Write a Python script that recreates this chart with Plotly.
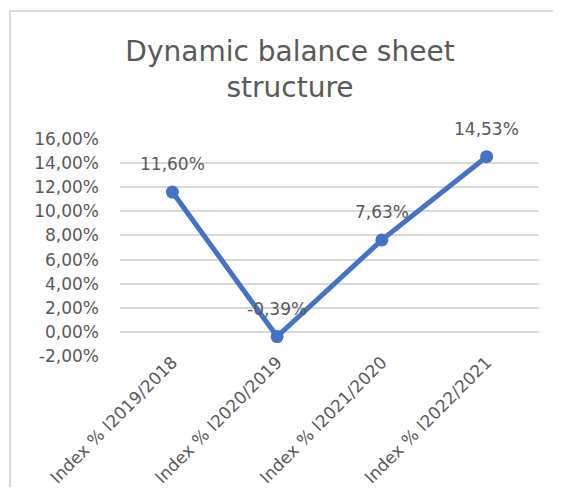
import plotly.graph_objects as go

# Dados do gráfico
categorias = ['Index % I2019/2018', 'Index % I2020/2019', 'Index % I2021/2020', 'Index % I2022/2021']
valores = [11.60, -0.39, 7.63, 14.53]
ticks_y = [-2, 0, 2, 4, 6, 8, 10, 12, 14, 16]


def fmt_pct(v):
    """Formata com vírgula decimal e sinal de percentagem"""
    return f'{v:.2f}%'.replace('.', ',')


cinza = '#595959'
fonte = 'DejaVu Sans'

fig = go.Figure()

fig.add_trace(go.Scatter(
    x=categorias,
    y=valores,
    mode='lines+markers',
    line=dict(color='#4472C4', width=5),
    marker=dict(color='#4472C4', size=13),
    showlegend=False,
))

# Rótulos de dados acima dos pontos
for cat, val in zip(categorias, valores):
    fig.add_annotation(
        x=cat, y=val,
        text=fmt_pct(val),
        showarrow=False,
        yshift=28,
        font=dict(family=fonte, size=17, color=cinza),
    )

# Moldura do gráfico (só a borda esquerda e a de cima aparecem)
fig.add_shape(
    type='line', xref='paper', yref='paper',
    x0=-0.2625, x1=-0.2625, y0=-0.7, y1=1.59,
    line=dict(color='#d9d9d9', width=2),
)
fig.add_shape(
    type='line', xref='paper', yref='paper',
    x0=-0.2625, x1=1.3, y0=1.59, y1=1.59,
    line=dict(color='#d9d9d9', width=2),
)

# A página tem margem de 8px, por isso a figura é menor que a janela (sem barras de rolagem)
fig.update_layout(
    width=545,
    height=479,
    margin=dict(l=112, r=14, t=131, b=131),
    paper_bgcolor='white',
    plot_bgcolor='white',
    title=dict(
        text='Dynamic balance sheet<br>structure',
        x=282 / 545, xref='container', xanchor='center',
        y=1 - 53 / 479, yref='container', yanchor='top',
        font=dict(family=fonte, size=28, color=cinza),
    ),
    xaxis=dict(
        range=[-0.5, 3.5],
        tickangle=-45,
        tickfont=dict(family=fonte, size=17, color=cinza),
        showgrid=False,
        showline=False,
        ticks='',
        automargin=False,
        ticklabelstandoff=-8,
    ),
    yaxis=dict(
        range=[-2, 16],
        tickvals=ticks_y,
        ticktext=[fmt_pct(t) for t in ticks_y],
        tickfont=dict(family=fonte, size=17, color=cinza),
        gridcolor='#d9d9d9',
        gridwidth=1.5,
        zeroline=False,
        showline=False,
        ticks='',
        ticklabelstandoff=20,
        automargin=False,
    ),
)

fig.write_html('out.html')
